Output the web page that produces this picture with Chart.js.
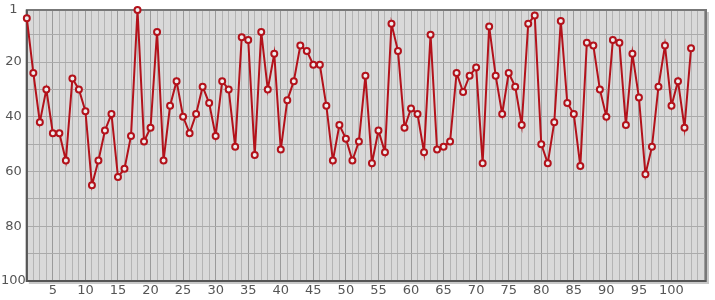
<!DOCTYPE html>
<html>
<head>
<meta charset="utf-8">
<script src="https://cdn.jsdelivr.net/npm/chart.js@4.4.1/dist/chart.umd.min.js"></script>
<style>
    html, body { margin: 0; padding: 0; background: #fff; }
    .chart-box { width: 715px; height: 300px; position: relative; }
</style>
</head>
<body>
<div class="chart-box"><canvas class="rank-chart"></canvas></div>
<script>
const ranks = [
    4, 24, 42, 30, 46, 46, 56, 26, 30, 38,
    65, 56, 45, 39, 62, 59, 47, 1, 49, 44,
    9, 56, 36, 27, 40, 46, 39, 29, 35, 47,
    27, 30, 51, 11, 12, 54, 9, 30, 17, 52,
    34, 27, 14, 16, 21, 21, 36, 56, 43, 48,
    56, 49, 25, 57, 45, 53, 6, 16, 44, 37,
    39, 53, 10, 52, 51, 49, 24, 31, 25, 22,
    57, 7, 25, 39, 24, 29, 43, 6, 3, 50,
    57, 42, 5, 35, 39, 58, 13, 14, 30, 40,
    12, 13, 43, 17, 33, 61, 51, 29, 14, 36,
    27, 44, 15,
];
const xLabelValues = [5, 10, 15, 20, 25, 30, 35, 40, 45, 50, 55, 60, 65, 70, 75, 80, 85, 90, 95, 100];
const yGridValues = [1, 10, 20, 30, 40, 50, 60, 70, 80, 90, 100];
const yLabelValues = [1, 20, 40, 60, 80, 100];

const points = ranks.map((v, i) => ({ x: i + 1, y: v }));

// grey plot area with a dark frame, drawn under the line
const plotFrame = {
    id: "plotFrame",
    beforeDraw(chart) {
        const { ctx, chartArea: a } = chart;
        ctx.save();
        ctx.fillStyle = "#d9d9d9";
        ctx.fillRect(a.left, a.top, a.width, a.height);
        ctx.restore();
    },
    beforeDatasetsDraw(chart) {
        const { ctx, chartArea: a } = chart;
        ctx.save();
        ctx.strokeStyle = "#c8c8c8";
        ctx.lineWidth = 2;
        ctx.beginPath();
        ctx.moveTo(a.right + 2, a.top + 2);
        ctx.lineTo(a.right + 2, a.bottom + 2);
        ctx.lineTo(a.left + 2, a.bottom + 2);
        ctx.stroke();
        ctx.strokeStyle = "#777";
        ctx.lineWidth = 2;
        ctx.strokeRect(a.left, a.top, a.width, a.height);
        ctx.strokeStyle = "#555";
        ctx.beginPath();
        ctx.moveTo(a.left, a.top);
        ctx.lineTo(a.left, a.bottom);
        ctx.lineTo(a.right, a.bottom);
        ctx.stroke();
        ctx.restore();
    },
};

new Chart(document.querySelector(".rank-chart").getContext("2d"), {
    type: "line",
    data: {
        datasets: [
            {
                data: points,
                borderColor: "#b3121b",
                backgroundColor: "#eeeeee",
                pointBorderColor: "#b3121b",
                pointBackgroundColor: "#eeeeee",
                borderWidth: 2,
                pointRadius: 3,
                pointBorderWidth: 2,
                tension: 0,
                clip: 8,
            },
        ],
    },
    options: {
        responsive: true,
        maintainAspectRatio: false,
        animation: false,
        layout: {
            padding: { top: 10, right: 9, bottom: 0, left: 0 },
        },
        scales: {
            x: {
                type: "linear",
                min: 1,
                max: 105.3,
                afterBuildTicks: (axis) => {
                    const t = [];
                    for (let v = 1; v <= 105; v++) t.push({ value: v });
                    axis.ticks = t;
                },
                grid: {
                    drawTicks: false,
                    color: (c) => (c.tick && c.tick.value % 5 === 0 ? "#9a9a9a" : "#b4b4b4"),
                    lineWidth: 1,
                },
                border: { display: false },
                ticks: {
                    autoSkip: false,
                    maxRotation: 0,
                    padding: 3,
                    color: "#555",
                    font: { family: "DejaVu Sans", size: 13, lineHeight: 1 },
                    callback: (v) => (xLabelValues.includes(v) ? String(v) : ""),
                },
            },
            y: {
                type: "linear",
                reverse: true,
                min: 1,
                max: 100,
                afterBuildTicks: (axis) => {
                    axis.ticks = yGridValues.map((v) => ({ value: v }));
                },
                grid: {
                    drawTicks: false,
                    color: "#aaaaaa",
                    lineWidth: 1,
                },
                border: { display: false },
                ticks: {
                    autoSkip: false,
                    padding: 1,
                    crossAlign: "center",
                    color: "#555",
                    font: { family: "DejaVu Sans", size: 13 },
                    callback: (v) => (yLabelValues.includes(v) ? String(v) : ""),
                },
            },
        },
        plugins: {
            legend: { display: false },
            tooltip: { enabled: false },
        },
    },
    plugins: [plotFrame],
});
</script>
</body>
</html>
